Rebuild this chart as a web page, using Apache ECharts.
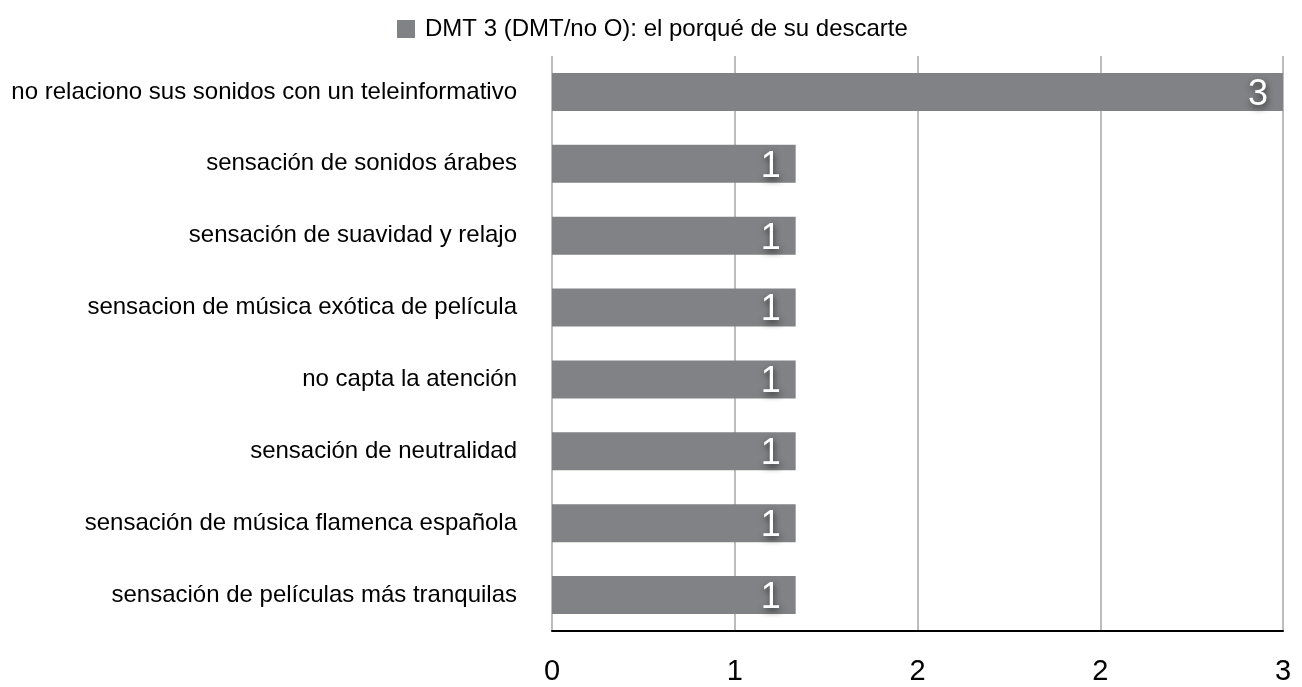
<!DOCTYPE html>
<html>
<head>
<meta charset="utf-8">
<script src="https://cdn.jsdelivr.net/npm/echarts@6/dist/echarts.min.js"></script>
<style>
  html, body { margin: 0; padding: 0; background: #ffffff; }
  #chart { width: 1302px; height: 687px; }
</style>
</head>
<body>
<div id="chart"></div>
<script>
// Reasons given for discarding DMT 3
const categories = [
  'no relaciono sus sonidos con un teleinformativo',
  'sensación de sonidos árabes',
  'sensación de suavidad y relajo',
  'sensacion de música exótica de película',
  'no capta la atención',
  'sensación de neutralidad',
  'sensación de música flamenca española',
  'sensación de películas más tranquilas'
];
const values = [3, 1, 1, 1, 1, 1, 1, 1];
const seriesName = 'DMT 3 (DMT/no O): el porqué de su descarte';
const axisMax = 3;
const axisStep = 0.75;

const font = '"Liberation Sans", Arial, sans-serif';
const chart = echarts.init(document.getElementById('chart'));

chart.setOption({
  animation: false,
  textStyle: { fontFamily: font },
  legend: {
    data: [seriesName],
    top: 12,
    left: 392,
    icon: 'rect',
    itemWidth: 18,
    itemHeight: 18,
    itemGap: 10,
    textStyle: { fontSize: 24, color: '#000', fontFamily: font, padding: [0, 0, 0, 5] }
  },
  grid: { left: 552, right: 19, top: 56, bottom: 56, containLabel: false },
  xAxis: {
    type: 'value',
    min: 0,
    max: axisMax,
    interval: axisStep,
    axisLine: { show: true, lineStyle: { color: '#000', width: 2 } },
    axisTick: { show: false },
    splitLine: { show: true, lineStyle: { color: '#bdbdbd', width: 2 } },
    axisLabel: {
      fontSize: 29,
      color: '#000',
      margin: 26,
      formatter: v => String(Math.round(v))
    }
  },
  yAxis: {
    type: 'category',
    data: categories,
    inverse: true,
    axisLine: { show: false },
    axisTick: { show: false },
    axisLabel: { fontSize: 24, color: '#000', margin: 35, padding: [3, 0, 0, 0] }
  },
  series: [{
    name: seriesName,
    type: 'bar',
    data: values,
    barWidth: 38,
    itemStyle: { color: '#808285' },
    label: {
      show: true,
      position: 'insideRight',
      distance: 15,
      offset: [0, 3],
      fontSize: 36,
      color: '#ffffff',
      textShadowColor: 'rgba(40,40,40,0.9)',
      textShadowBlur: 6,
      textShadowOffsetX: 1,
      textShadowOffsetY: 3
    }
  }]
});
</script>
</body>
</html>
